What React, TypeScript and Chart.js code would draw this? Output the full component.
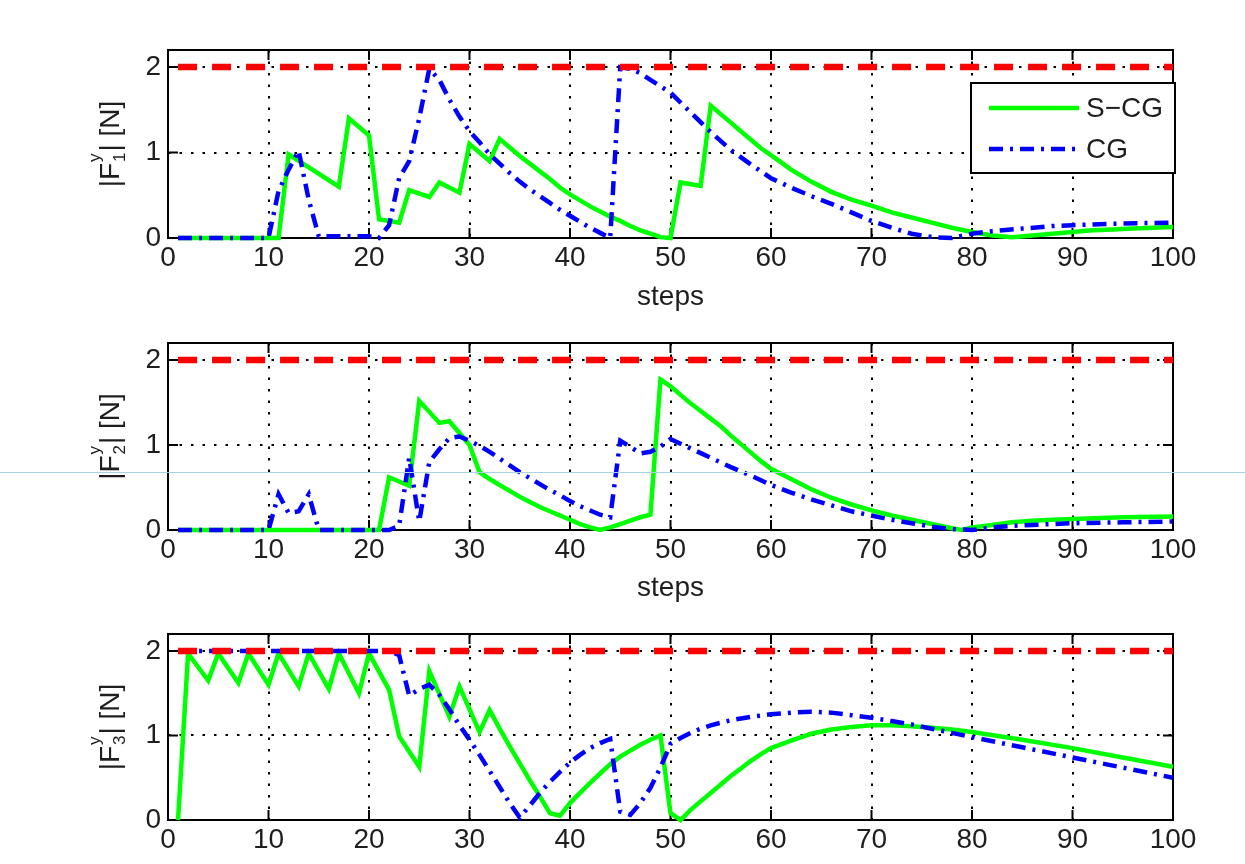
import React, { useEffect, useRef } from 'react';
import { Chart, registerables } from 'chart.js';

Chart.register(...registerables);

// ---------- data ----------
const xTicks = [0, 10, 20, 30, 40, 50, 60, 70, 80, 90, 100];
const yTicks = [0, 1, 2];
const limitSteps = [1, 100];
const limitValues = [2, 2];

// |F1y|
const f1ScgSteps = [1, 11, 12, 17, 18, 20, 21, 23, 24, 26, 27, 29, 30, 32, 33, 34, 35, 36, 37, 38, 39, 40, 41, 42, 43, 44, 45, 46, 47, 48, 49, 50, 51, 53, 54, 55, 56, 57, 58, 59, 60, 62, 64, 66, 68, 70, 72, 74, 76, 78, 80, 82, 84, 86, 88, 90, 92, 94, 96, 98, 100];
const f1ScgValues = [0, 0, 0.98, 0.6, 1.4, 1.2, 0.22, 0.18, 0.56, 0.48, 0.65, 0.53, 1.1, 0.9, 1.16, 1.06, 0.96, 0.87, 0.78, 0.69, 0.59, 0.51, 0.44, 0.37, 0.31, 0.25, 0.2, 0.14, 0.09, 0.05, 0.01, 0, 0.65, 0.61, 1.55, 1.45, 1.35, 1.25, 1.15, 1.05, 0.97, 0.8, 0.66, 0.54, 0.45, 0.38, 0.3, 0.24, 0.18, 0.12, 0.07, 0.03, 0.01, 0.03, 0.05, 0.07, 0.09, 0.1, 0.11, 0.12, 0.13];
const f1CgSteps = [1, 10, 11, 12, 13, 14, 15, 20, 21, 22, 23, 24, 25, 26, 27, 28, 29, 30, 31, 32, 33, 34, 35, 36, 37, 38, 39, 40, 41, 42, 43, 44, 45, 46, 47, 48, 50, 52, 54, 56, 58, 60, 62, 64, 66, 68, 70, 72, 74, 76, 78, 80, 82, 85, 88, 90, 95, 100];
const f1CgValues = [0, 0, 0.55, 0.8, 1.02, 0.45, 0.02, 0.02, 0, 0.15, 0.7, 0.9, 1.4, 1.98, 1.85, 1.62, 1.42, 1.25, 1.12, 0.98, 0.87, 0.76, 0.66, 0.57, 0.49, 0.41, 0.33, 0.26, 0.19, 0.12, 0.06, 0, 2.0, 1.98, 1.93, 1.85, 1.7, 1.47, 1.24, 1.03, 0.86, 0.7, 0.59, 0.49, 0.4, 0.3, 0.2, 0.12, 0.05, 0.01, 0, 0.05, 0.08, 0.11, 0.14, 0.15, 0.17, 0.18];

// |F2y|
const f2ScgSteps = [1, 21, 22, 24, 25, 27, 28, 30, 31, 32, 33, 34, 35, 36, 37, 38, 39, 40, 41, 42, 43, 44, 45, 46, 47, 48, 49, 50, 51, 52, 53, 54, 55, 56, 57, 58, 59, 60, 62, 64, 66, 68, 70, 72, 74, 76, 78, 79, 80, 82, 84, 86, 88, 90, 95, 100];
const f2ScgValues = [0, 0, 0.62, 0.52, 1.52, 1.26, 1.28, 1.0, 0.68, 0.6, 0.53, 0.46, 0.39, 0.33, 0.27, 0.22, 0.17, 0.12, 0.07, 0.03, 0, 0.03, 0.07, 0.11, 0.15, 0.18, 1.77, 1.69, 1.59, 1.49, 1.4, 1.31, 1.22, 1.11, 1.01, 0.91, 0.81, 0.72, 0.6, 0.48, 0.38, 0.3, 0.23, 0.17, 0.12, 0.07, 0.02, 0, 0.03, 0.06, 0.09, 0.11, 0.12, 0.13, 0.15, 0.16];
const f2CgSteps = [1, 10, 11, 12, 13, 14, 15, 22, 23, 24, 25, 26, 27, 28, 29, 30, 31, 32, 33, 34, 35, 36, 37, 38, 39, 40, 41, 42, 43, 44, 45, 46, 47, 48, 49, 50, 52, 54, 56, 58, 60, 62, 64, 66, 68, 70, 72, 74, 76, 78, 80, 82, 84, 86, 88, 90, 95, 100];
const f2CgValues = [0, 0, 0.42, 0.2, 0.22, 0.42, 0, 0, 0.05, 0.85, 0.1, 0.8, 0.95, 1.08, 1.1, 1.05, 0.99, 0.92, 0.84, 0.76, 0.68, 0.61, 0.54, 0.47, 0.41, 0.34, 0.28, 0.23, 0.18, 0.15, 1.05, 0.98, 0.9, 0.92, 0.98, 1.07, 0.96, 0.85, 0.74, 0.64, 0.53, 0.44, 0.36, 0.29, 0.22, 0.17, 0.12, 0.08, 0.04, 0.01, 0, 0.03, 0.05, 0.06, 0.07, 0.08, 0.09, 0.1];

// |F3y|
const f3ScgSteps = [1, 2, 4, 5, 7, 8, 10, 11, 13, 14, 16, 17, 19, 20, 22, 23, 25, 26, 28, 29, 31, 32, 33, 34, 35, 36, 37, 38, 39, 40, 41, 42, 43, 44, 45, 46, 47, 48, 49, 50, 51, 52, 53, 54, 55, 56, 57, 58, 59, 60, 62, 64, 66, 68, 70, 72, 74, 76, 78, 80, 85, 90, 95, 100];
const f3ScgValues = [0, 1.97, 1.65, 1.97, 1.62, 1.97, 1.6, 1.97, 1.58, 1.97, 1.55, 1.97, 1.5, 1.97, 1.54, 0.99, 0.63, 1.76, 1.22, 1.58, 1.04, 1.3, 1.08, 0.87, 0.67, 0.47, 0.28, 0.08, 0.05, 0.2, 0.32, 0.44, 0.55, 0.66, 0.75, 0.82, 0.89, 0.95, 1.0, 0.08, 0, 0.12, 0.22, 0.32, 0.42, 0.52, 0.61, 0.7, 0.78, 0.85, 0.94, 1.02, 1.07, 1.1, 1.12, 1.12, 1.11, 1.09, 1.07, 1.04, 0.95, 0.85, 0.74, 0.63];
const f3CgSteps = [1, 22, 23, 24, 25, 26, 27, 28, 29, 30, 31, 32, 33, 34, 35, 36, 37, 38, 39, 40, 41, 42, 43, 44, 45, 46, 47, 48, 49, 50, 51, 52, 53, 54, 56, 58, 60, 62, 64, 66, 68, 70, 72, 74, 76, 78, 80, 85, 90, 95, 100];
const f3CgValues = [2, 2, 1.95, 1.47, 1.55, 1.6, 1.48, 1.31, 1.12, 0.95, 0.77, 0.58, 0.39, 0.2, 0.03, 0.17, 0.32, 0.45, 0.57, 0.68, 0.77, 0.85, 0.91, 0.96, 0.1, 0.06, 0.2, 0.38, 0.62, 0.9, 0.97, 1.03, 1.08, 1.12, 1.18, 1.22, 1.25, 1.27, 1.28, 1.27, 1.24, 1.21, 1.17, 1.13, 1.08, 1.03, 0.98, 0.86, 0.74, 0.62, 0.5];

const seriesLabels = ['S\u2212CG', 'CG'];
const yLabelSubs = ['1', '2', '3'];
const xTitles = ['steps', 'steps', ''];

// ---------- layout / style ----------
const FONT = "'Liberation Sans', Arial, Helvetica, sans-serif";
const W = 1245;
const H = 864;
const LEFT = 168;
const RIGHT = 1173;
const TEXT = '#1e1e1e';
const GREEN = '#00ff00';
const BLUE = '#0000ff';
const RED = '#ff0000';
const CG_DASH = [14, 7, 3, 7];

const panels = [
  { top: 0, height: 320, plotTop: 50, plotBottom: 238, scg: [f1ScgSteps, f1ScgValues], cg: [f1CgSteps, f1CgValues], titlePad: 6, legend: true },
  { top: 300, height: 320, plotTop: 343, plotBottom: 530, scg: [f2ScgSteps, f2ScgValues], cg: [f2CgSteps, f2CgValues], titlePad: 15, legend: false },
  { top: 600, height: 264, plotTop: 634, plotBottom: 820, scg: [f3ScgSteps, f3ScgValues], cg: [f3CgSteps, f3CgValues], titlePad: 0, legend: false },
];

const toPoints = (xs: number[], ys: number[]) => xs.map((x, i) => ({ x, y: ys[i] }));

const framePlugin = {
  id: 'matlabFrame',
  beforeDatasetsDraw(chart: any) {
    const { ctx, chartArea, scales } = chart;
    const { left, right, top, bottom } = chartArea;
    ctx.save();
    ctx.setLineDash([]);
    ctx.strokeStyle = '#000';
    ctx.lineWidth = 2;
    ctx.strokeRect(left, top, right - left, bottom - top);
    ctx.beginPath();
    scales.x.ticks.forEach((t: any) => {
      const px = scales.x.getPixelForValue(t.value);
      ctx.moveTo(px, bottom);
      ctx.lineTo(px, bottom - 10);
      ctx.moveTo(px, top);
      ctx.lineTo(px, top + 10);
    });
    scales.y.ticks.forEach((t: any) => {
      const py = scales.y.getPixelForValue(t.value);
      ctx.moveTo(left, py);
      ctx.lineTo(left + 10, py);
      ctx.moveTo(right, py);
      ctx.lineTo(right - 10, py);
    });
    ctx.stroke();
    ctx.restore();
  },
};

function makeYLabelPlugin(sub: string) {
  return {
    id: 'yLabel' + sub,
    afterDraw(chart: any) {
      const { ctx, chartArea } = chart;
      const cy = (chartArea.top + chartArea.bottom) / 2;
      const baseX = 119;
      const main = `28px ${FONT}`;
      const small = `17px ${FONT}`;
      ctx.save();
      ctx.fillStyle = TEXT;
      ctx.textBaseline = 'alphabetic';
      ctx.textAlign = 'left';
      ctx.font = main;
      const p1 = '|F';
      const p2 = '| [N]';
      const w1 = ctx.measureText(p1).width;
      const w3 = ctx.measureText(p2).width;
      ctx.font = small;
      const wSup = ctx.measureText('y').width;
      const wSub = ctx.measureText(sub).width;
      const w2 = Math.max(wSup, wSub) + 2;
      const total = w1 + w2 + w3;
      ctx.translate(baseX, cy);
      ctx.rotate(-Math.PI / 2);
      let x = -total / 2;
      ctx.font = main;
      ctx.fillText(p1, x, 0);
      x += w1;
      ctx.font = small;
      ctx.fillText('y', x + 1, -19);
      ctx.fillText(sub, x + 1, 6);
      x += w2;
      ctx.font = main;
      ctx.fillText(p2, x, 0);
      ctx.restore();
    },
  };
}

const legendPlugin = {
  id: 'matlabLegend',
  afterDraw(chart: any) {
    const { ctx } = chart;
    ctx.save();
    ctx.fillStyle = '#fff';
    ctx.fillRect(971, 83, 204, 90);
    ctx.strokeStyle = '#000';
    ctx.lineWidth = 2;
    ctx.setLineDash([]);
    ctx.strokeRect(971, 83, 204, 90);
    ctx.lineWidth = 4.5;
    ctx.strokeStyle = GREEN;
    ctx.beginPath();
    ctx.moveTo(989, 108);
    ctx.lineTo(1079, 108);
    ctx.stroke();
    ctx.strokeStyle = BLUE;
    ctx.setLineDash(CG_DASH);
    ctx.beginPath();
    ctx.moveTo(989, 149);
    ctx.lineTo(1079, 149);
    ctx.stroke();
    ctx.setLineDash([]);
    ctx.fillStyle = TEXT;
    ctx.font = `28px ${FONT}`;
    ctx.textBaseline = 'middle';
    ctx.textAlign = 'left';
    ctx.fillText(seriesLabels[0], 1086, 109);
    ctx.fillText(seriesLabels[1], 1086, 150);
    ctx.restore();
  },
};

function Panel({ idx }: { idx: number }) {
  const ref = useRef<HTMLCanvasElement | null>(null);
  const p = panels[idx];
  useEffect(() => {
    if (!ref.current) return;
    const tickFont = { family: FONT, size: 28 };
    const gridCommon = { color: '#000', lineWidth: 2, drawTicks: false };
    const borderCommon = { display: false, dash: [2.5, 9] };
    const plugins: any[] = [framePlugin, makeYLabelPlugin(yLabelSubs[idx])];
    if (p.legend) plugins.push(legendPlugin);
    const chart = new Chart(ref.current, {
      type: 'line',
      data: {
        datasets: [
          { label: 'limit', data: toPoints(limitSteps, limitValues), borderColor: RED, borderWidth: 6.5, borderDash: [19, 15], pointRadius: 0, fill: false, order: 0, clip: 8, tension: 0 },
          { label: seriesLabels[1], data: toPoints(p.cg[0], p.cg[1]), borderColor: BLUE, borderWidth: 4.5, borderDash: CG_DASH, pointRadius: 0, fill: false, order: 1, clip: 8, tension: 0 },
          { label: seriesLabels[0], data: toPoints(p.scg[0], p.scg[1]), borderColor: GREEN, borderWidth: 4.5, pointRadius: 0, fill: false, order: 2, clip: 8, tension: 0 },
        ] as any,
      },
      options: {
        responsive: false,
        animation: false,
        events: [],
        layout: { padding: { top: p.plotTop - p.top, right: W - RIGHT, left: 0, bottom: 0 } },
        plugins: { legend: { display: false }, tooltip: { enabled: false } },
        scales: {
          x: {
            type: 'linear',
            min: 0,
            max: 100,
            afterBuildTicks: (s: any) => { s.ticks = xTicks.map((v) => ({ value: v })); },
            afterFit: (s: any) => { s.height = p.top + p.height - p.plotBottom; },
            ticks: { font: tickFont, color: TEXT, padding: 3, maxRotation: 0, autoSkip: false },
            grid: gridCommon,
            border: borderCommon,
            title: { display: !!xTitles[idx], text: xTitles[idx], font: tickFont, color: TEXT, padding: { top: 0, bottom: p.titlePad } },
          },
          y: {
            type: 'linear',
            min: 0,
            max: 2.2,
            afterBuildTicks: (s: any) => { s.ticks = yTicks.map((v) => ({ value: v })); },
            afterFit: (s: any) => { s.width = LEFT; },
            ticks: { font: tickFont, color: TEXT, padding: 7 },
            grid: gridCommon,
            border: borderCommon,
          },
        },
      } as any,
      plugins,
    });
    return () => chart.destroy();
  }, []);
  return (
    <canvas
      ref={ref}
      width={W}
      height={p.height}
      style={{ position: 'absolute', left: 0, top: p.top, width: W, height: p.height }}
    />
  );
}

export default function App() {
  return (
    <div style={{ position: 'absolute', left: 0, top: 0, width: W, height: H, background: '#fff', overflow: 'hidden' }}>
      <Panel idx={0} />
      <Panel idx={1} />
      <Panel idx={2} />
      <div style={{ position: 'absolute', left: 0, top: 472, width: W, height: 1, background: '#a6d3dc', zIndex: 5 }} />
    </div>
  );
}
